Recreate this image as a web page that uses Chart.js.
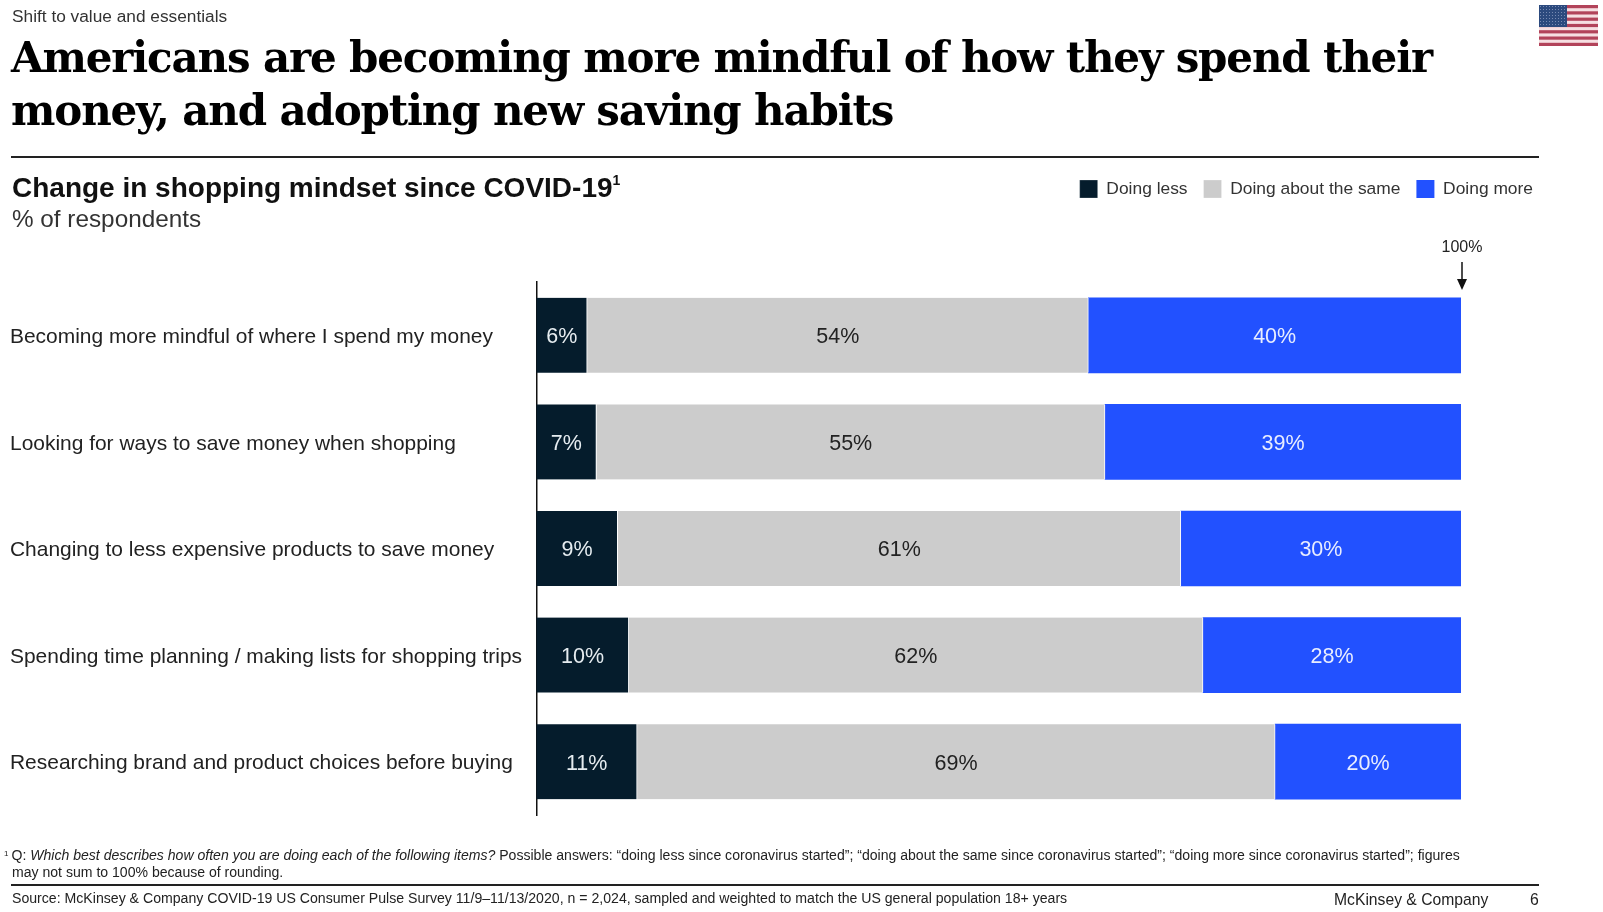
<!DOCTYPE html>
<html>
<head>
<meta charset="utf-8">
<title>Change in shopping mindset</title>
<script src="https://cdn.jsdelivr.net/npm/chart.js@4"></script>
<style>
  html, body { margin: 0; padding: 0; background: #fff; }
  body { width: 1603px; height: 912px; position: relative; overflow: hidden; font-family: "Liberation Sans", Arial, sans-serif; color: #1a1a1a; }
  canvas { position: absolute; left: 0; top: 0; }
  .t { position: absolute; white-space: nowrap; }
  .rule { position: absolute; background: #222; height: 1.5px; }
  #kicker { left: 12px; top: 6px; font-size: 17.3px; color: #333; }
  #title { left: 11px; top: 31px; font: bold 42px/53px "DejaVu Serif", serif; letter-spacing: -1.15px; color: #000; }
  #sub { left: 12px; top: 172px; font-size: 28px; font-weight: bold; color: #111; }
  #sub sup { font-size: 14px; font-weight: bold; vertical-align: 12px; line-height: 0; }
  #unit { left: 12px; top: 205px; font-size: 24.3px; color: #333; }
  #note1 { left: 4px; top: 847px; font-size: 14.07px; color: #222; }
  #note1 sup { font-size: 8px; vertical-align: 4px; line-height: 0; margin-right: 3px; }
  #note2 { left: 12px; top: 864px; font-size: 14.07px; color: #222; }
  #source { left: 12px; top: 890px; font-size: 14.12px; color: #222; }
  #brand { left: 1334px; top: 891px; font-size: 15.7px; color: #222; }
  #page { left: 1530px; top: 891px; font-size: 15.8px; color: #222; }
  #flag { position: absolute; left: 1539px; top: 5px; width: 59px; height: 41px; }
</style>
</head>
<body>
<canvas id="chart" width="1603" height="912"></canvas>
<div class="t" id="kicker">Shift to value and essentials</div>
<div class="t" id="title">Americans are becoming more mindful of how they spend their<br>money, and adopting new saving habits</div>
<div class="rule" style="left:11px;top:156px;width:1528px"></div>
<div class="t" id="sub">Change in shopping mindset since COVID-19<sup>1</sup></div>
<div class="t" id="unit">% of respondents</div>
<div class="t" id="note1"><sup>1</sup>Q: <i>Which best describes how often you are doing each of the following items?</i> Possible answers: “doing less since coronavirus started”; “doing about the same since coronavirus started”; “doing more since coronavirus started”; figures</div>
<div class="t" id="note2">may not sum to 100% because of rounding.</div>
<div class="rule" style="left:11px;top:884px;width:1528px"></div>
<div class="t" id="source">Source: McKinsey &amp; Company COVID-19 US Consumer Pulse Survey 11/9–11/13/2020, n = 2,024, sampled and weighted to match the US general population 18+ years</div>
<div class="t" id="brand">McKinsey &amp; Company</div>
<div class="t" id="page">6</div>
<svg id="flag" viewBox="0 0 59 41">
  <defs>
    <pattern id="stars" width="3" height="3" patternUnits="userSpaceOnUse"><circle cx="1.5" cy="1.5" r="0.5" fill="#8fa0c4"/></pattern>
  </defs>
  <rect width="59" height="41" fill="#f6dfe2"/>
  <g fill="#b2435a">
    <rect y="0" width="59" height="3.2"/><rect y="6.3" width="59" height="3.2"/><rect y="12.6" width="59" height="3.2"/>
    <rect y="18.9" width="59" height="3.2"/><rect y="25.2" width="59" height="3.2"/><rect y="31.5" width="59" height="3.2"/>
    <rect y="37.8" width="59" height="3.2"/>
  </g>
  <rect width="28" height="22" fill="#2c4a7e"/>
  <rect width="28" height="22" fill="url(#stars)"/>
</svg>
<script>
const categories = [
  "Becoming more mindful of where I spend my money",
  "Looking for ways to save money when shopping",
  "Changing to less expensive products to save money",
  "Spending time planning / making lists for shopping trips",
  "Researching brand and product choices before buying",
];
const doingLess = [5.5, 6.5, 8.8, 10, 10.9];
const doingSame = [54.2, 55, 60.9, 62.1, 69];
const doingMore = [40.3, 38.5, 30.3, 27.9, 20.1];

const NAVY = "#051c2c";
const GRAY = "#cccccc";
const BLUE = "#2251ff";

// labels in the middle of each segment, rounded like the source
const segmentLabels = {
  id: "segmentLabels",
  afterDatasetsDraw(chart) {
    const ctx = chart.ctx;
    ctx.save();
    ctx.font = '21.5px "Liberation Sans"';
    ctx.textAlign = "center";
    ctx.textBaseline = "middle";
    chart.data.datasets.forEach((ds, i) => {
      chart.getDatasetMeta(i).data.forEach((bar, j) => {
        const c = bar.getCenterPoint();
        ctx.fillStyle = ds.labelColor;
        ctx.fillText(Math.round(ds.data[j]) + "%", c.x, c.y + 2);
      });
    });
    ctx.restore();
  },
};

// "100%" marker with the arrow above the bars
const fullMark = {
  id: "fullMark",
  afterDraw(chart) {
    const ctx = chart.ctx;
    const x = chart.scales.x.getPixelForValue(100) + 1;
    ctx.save();
    ctx.font = '16px "Liberation Sans"';
    ctx.fillStyle = "#222";
    ctx.textAlign = "center";
    ctx.textBaseline = "middle";
    ctx.fillText("100%", x, 248);
    ctx.strokeStyle = "#111";
    ctx.lineWidth = 1.5;
    ctx.beginPath();
    ctx.moveTo(x, 262);
    ctx.lineTo(x, 284);
    ctx.stroke();
    ctx.fillStyle = "#111";
    ctx.beginPath();
    ctx.moveTo(x - 5, 279);
    ctx.lineTo(x + 5, 279);
    ctx.lineTo(x, 290);
    ctx.closePath();
    ctx.fill();
    ctx.restore();
  },
};

// legend sits at the top, keep the gap down to the plot
// +1 on the row width stops the last item wrapping on float rounding
const legendGap = {
  id: "legendGap",
  beforeInit(chart) {
    const fit = chart.legend.fit;
    chart.legend.fit = function () {
      fit.call(this);
      this.lineWidths = this.lineWidths.map((w) => w + 1);
      this.height = 118;
    };
  },
};

const chart = new Chart(document.getElementById("chart"), {
  type: "bar",
  data: {
    labels: categories,
    datasets: [
      { label: "Doing less", data: doingLess, backgroundColor: NAVY, labelColor: "#e6ecf0", borderColor: "#fff", borderWidth: { right: 1 } },
      { label: "Doing about the same", data: doingSame, backgroundColor: GRAY, labelColor: "#222", borderColor: "#fff", borderWidth: { right: 1 } },
      { label: "Doing more", data: doingMore, backgroundColor: BLUE, labelColor: "#e8edff", borderWidth: 0 },
    ],
  },
  options: {
    indexAxis: "y",
    responsive: false,
    animation: false,
    layout: { padding: { left: 10, top: 164, right: 53, bottom: 97 } },
    barThickness: 75,
    scales: {
      x: { stacked: true, min: 0, max: 100, display: false },
      y: {
        stacked: true,
        grid: { display: false, drawTicks: false },
        border: { display: true, color: "#111", width: 1.5 },
        ticks: {
          autoSkip: false,
          crossAlign: "far",
          labelOffset: 2,
          color: "#222",
          font: { family: '"Liberation Sans"', size: 20.95 },
        },
        afterFit(axis) { axis.width = 526.3; },
      },
      // empty axis that only reserves the space right of the 100% line
      side: {
        position: "right",
        grid: { display: false },
        border: { display: false },
        ticks: { display: false },
        afterFit(axis) { axis.width = 89; },
      },
    },
    plugins: {
      legend: {
        position: "top",
        align: "end",
        labels: {
          boxWidth: 18,
          boxHeight: 18,
          padding: 16,
          color: "#333",
          font: { family: '"Liberation Sans"', size: 17.4 },
        },
      },
      tooltip: { enabled: false },
    },
  },
  plugins: [segmentLabels, fullMark, legendGap],
});
</script>
</body>
</html>
